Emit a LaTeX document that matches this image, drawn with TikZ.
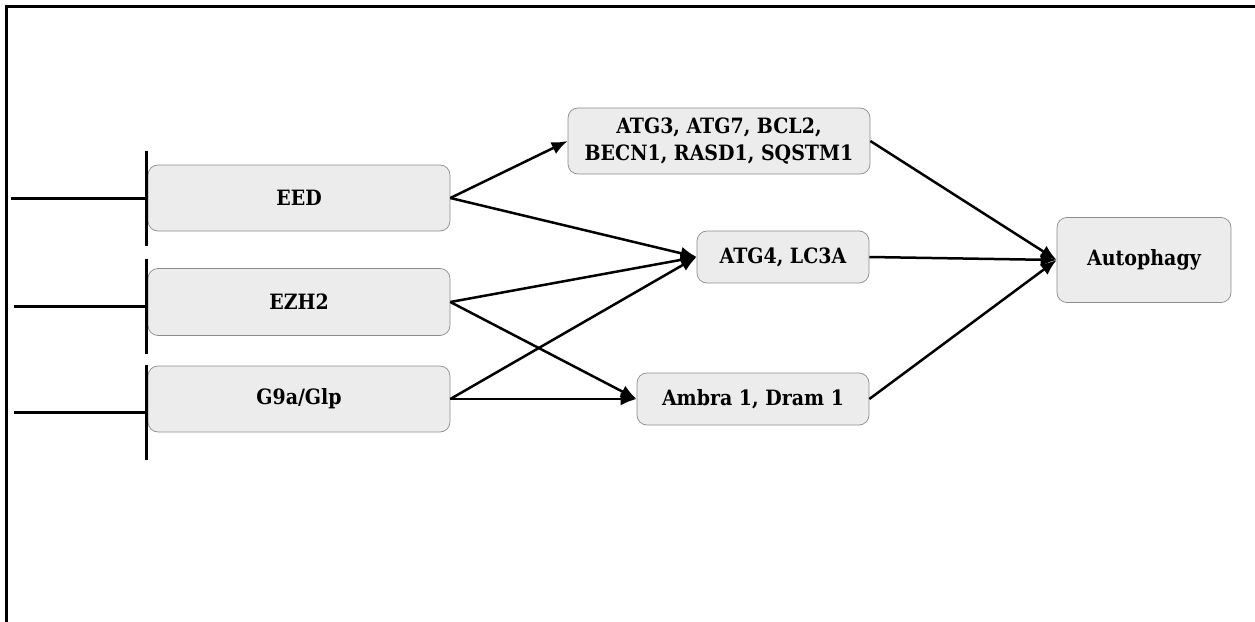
\documentclass[tikz,border=0pt]{standalone}
\usepackage{fontspec}
\setmainfont{DejaVu Serif Condensed}
\usetikzlibrary{arrows.meta,positioning}
\definecolor{boxfill}{HTML}{ECECEC}
\definecolor{boxline}{HTML}{8C8C8C}

\begin{document}
\begin{tikzpicture}[
    box/.style={draw=boxline, fill=boxfill, rectangle, rounded corners=0.2cm, align=center, font=\bfseries\fontsize{12}{15}\selectfont, inner sep=2pt},
    arrow/.style={-{Latex[length=0.32cm, width=0.26cm]}, line width=0.05cm},
    inhib/.style={-{Bar[width=1.9cm]}, line width=0.06cm}
]
  \useasboundingbox (0,0) rectangle (25.1,-12.44);
  % Frame
  \draw[line width=0.06cm] (0.13,-12.44) -- (0.13,-0.13) -- (25.1,-0.13);

  % Nodes
  \node (eed) [box, minimum width=6.04cm, minimum height=1.32cm] at (5.98,-3.96) {EED};
  \node (ezh) [box, minimum width=6.04cm, minimum height=1.34cm] at (5.98,-6.04) {EZH2};
  \node (g9a) [box, minimum width=6.04cm, minimum height=1.32cm] at (5.98,-7.98) {G9a/Glp};

  \node (atgs) [box, minimum width=6.04cm, minimum height=1.32cm] at (14.38,-2.82) {ATG3, ATG7, BCL2,\\BECN1, RASD1, SQSTM1};
  \node (lc3) [box, minimum width=3.44cm, minimum height=1.04cm] at (15.66,-5.14) {ATG4, LC3A};
  \node (ambra) [box, minimum width=4.64cm, minimum height=1.04cm] at (15.06,-7.98) {Ambra 1, Dram 1};

  \node (auto) [box, minimum width=3.48cm, minimum height=1.7cm] at (22.88,-5.2) {Autophagy};

  % Inhibitors
  \coordinate (eedin) at (0.22,-3.96);
  \coordinate (ezhin) at (0.28,-6.12);
  \coordinate (g9ain) at (0.28,-8.24);
  \draw [inhib] (eedin) -- (eedin -| eed.west);
  \draw [inhib] (ezhin) -- (ezhin -| ezh.west);
  \draw [inhib] (g9ain) -- (g9ain -| g9a.west);

  % Arrows
  \draw [arrow] (eed.east) -- (atgs.west);
  \draw [arrow] (eed.east) -- (lc3.west);
  \draw [arrow] (ezh.east) -- (lc3.west);
  \draw [arrow] (ezh.east) -- (ambra.west);
  \draw [arrow] (g9a.east) -- (lc3.west);
  \draw [arrow] (g9a.east) -- (ambra.west);

  \draw [arrow] (atgs.east) -- (auto.west);
  \draw [arrow] (lc3.east) -- (auto.west);
  \draw [arrow] (ambra.east) -- (auto.west);

\end{tikzpicture}
\end{document}
